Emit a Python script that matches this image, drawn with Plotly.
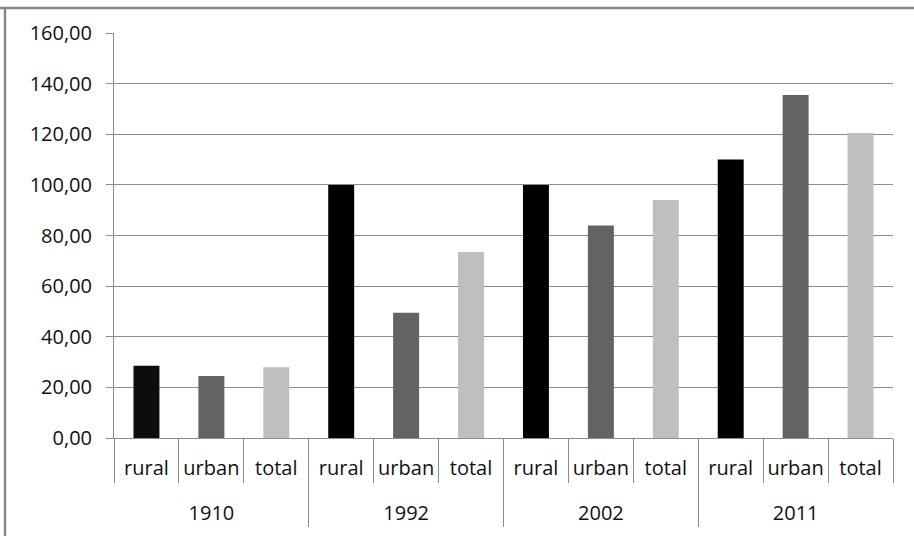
import plotly.graph_objects as go

# Index values by census year and area type
years = ["1910", "1992", "2002", "2011"]
areas = ["rural", "urban", "total"]
rural = [28.5, 100.0, 100.0, 110.0]
urban = [24.5, 49.5, 84.0, 135.5]
total = [28.0, 73.5, 94.0, 120.5]

area_colors = {"rural": "#000000", "urban": "#636363", "total": "#bfbfbf"}
series = {"rural": rural, "urban": urban, "total": total}

# One category per (year, area) bar; the area name is its tick label
cat_ids, cat_labels, y_vals, colors = [], [], [], []
for i, yr in enumerate(years):
    for a in areas:
        cat_ids.append(f"{yr} {a}")
        cat_labels.append(a)
        y_vals.append(series[a][i])
        c = area_colors[a]
        if yr == "1910" and a == "rural":
            c = "#0d0d0d"
        colors.append(c)

grid = "#8c8c8c"
font = dict(family="Open Sans", size=20, color="#111111")

fig = go.Figure()
fig.add_trace(
    go.Bar(
        x=cat_ids,
        y=y_vals,
        marker=dict(color=colors, line=dict(width=0)),
        width=0.4,
        showlegend=False,
    )
)
# Empty trace that carries the year axis
fig.add_trace(
    go.Scatter(x=years, y=[None] * len(years), xaxis="x2", yaxis="y",
               mode="markers", showlegend=False, hoverinfo="skip")
)

top_px, bottom_px = 33, 9          # margins
plot_bottom_px = 438               # y = 0 baseline
paper_h = 536 - top_px - bottom_px
y_dom0 = (536 - bottom_px - plot_bottom_px) / paper_h

fig.update_layout(
    width=914,
    height=536,
    margin=dict(l=114, r=21, t=top_px, b=bottom_px, autoexpand=False),
    paper_bgcolor="white",
    plot_bgcolor="white",
    separators=",.",
    font=font,
    yaxis=dict(
        domain=[y_dom0, 1],
        range=[0, 160],
        dtick=20,
        tickformat=".2f",
        showgrid=True,
        gridcolor=grid,
        gridwidth=1,
        showline=True,
        linecolor=grid,
        linewidth=1,
        ticks="outside",
        ticklen=7,
        tickcolor=grid,
        ticklabelstandoff=10,
        zeroline=False,
        automargin=False,
        tickfont=font,
    ),
    xaxis=dict(
        type="category",
        categoryorder="array",
        categoryarray=cat_ids,
        tickvals=cat_ids,
        ticktext=cat_labels,
        range=[-0.5, len(cat_ids) - 0.5],
        anchor="y",
        showline=True,
        linecolor=grid,
        linewidth=1,
        ticks="outside",
        tickson="boundaries",
        ticklen=44,
        tickcolor=grid,
        tickangle=0,
        ticklabelstandoff=12,
        showgrid=False,
        automargin=False,
        tickfont=font,
    ),
    xaxis2=dict(
        type="category",
        categoryorder="array",
        categoryarray=years,
        range=[-0.5, len(years) - 0.5],
        anchor="free",
        position=0,
        side="bottom",
        overlaying="x",
        showline=False,
        ticks="inside",
        tickson="boundaries",
        ticklen=89,
        tickcolor=grid,
        tickangle=0,
        ticklabelstandoff=-28,
        showgrid=False,
        automargin=False,
        tickfont=font,
    ),
    shapes=[
        dict(type="line", xref="paper", yref="paper",
             x0=-114 / 779, x1=1.2, y0=1 + 25 / paper_h, y1=1 + 25 / paper_h,
             line=dict(color="#878787", width=2.5)),
        dict(type="line", xref="paper", yref="paper",
             x0=-109 / 779, x1=-109 / 779, y0=1 + 25 / paper_h, y1=-0.5,
             line=dict(color="#878787", width=2.5)),
    ],
)

fig.write_html("out.html")
